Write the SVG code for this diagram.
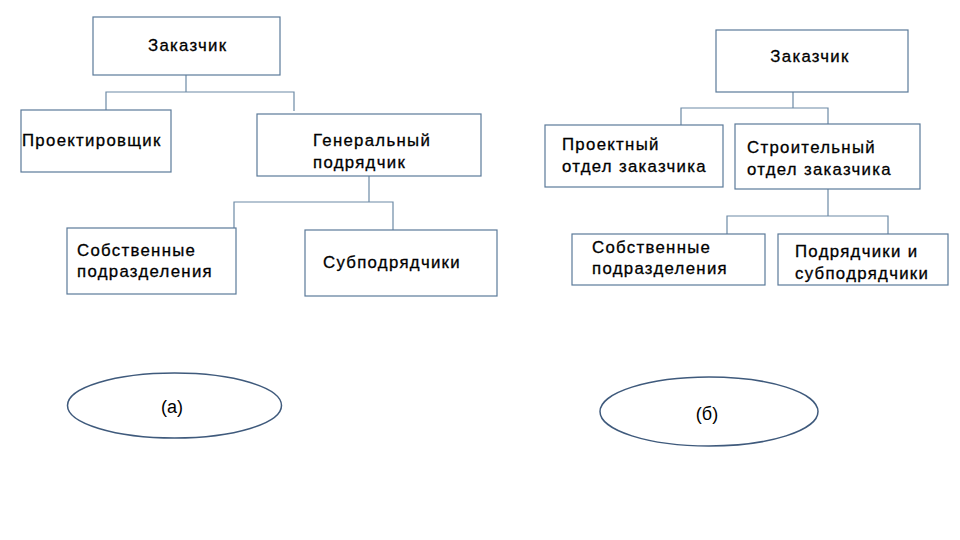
<svg xmlns="http://www.w3.org/2000/svg" width="960" height="540" viewBox="0 0 960 540">
<style>
.box{fill:#fff;stroke:#5b7a99;stroke-width:1.2}
.ln{fill:none;stroke:#6d8aa6;stroke-width:1.2}
.ell{fill:#fff;stroke:#3f5a7c;stroke-width:1.5}
text{font-family:"Liberation Sans",Arial,sans-serif;font-size:16.8px;letter-spacing:1.3px;fill:#000;stroke:#000;stroke-width:0.3}
text.lbl{letter-spacing:0;stroke:none;font-size:18px}
</style>
<rect width="960" height="540" fill="#fff"/>
<g id="connectors">
<path class="ln" d="M186 75V92M106 110V92H294V111"/>
<path class="ln" d="M369 176V202M234 229V202H393V231"/>
<path class="ln" d="M793 92V108M681 125V108H828V124"/>
<path class="ln" d="M828 189V216M727 234V216H888V234"/>
</g>
<g id="a-zakazchik"><rect class="box" x="93" y="17" width="187" height="58"/><text x="148" y="51">Заказчик</text></g>
<g id="a-proekt"><rect class="box" x="21" y="110" width="150" height="62"/><text x="22" y="146">Проектировщик</text></g>
<g id="a-genpodr"><rect class="box" x="257" y="114" width="224" height="62"/><text x="313" y="146">Генеральный</text><text x="313" y="168">подрядчик</text></g>
<g id="a-sobstv"><rect class="box" x="67" y="228" width="169" height="66"/><text x="77" y="256">Собственные</text><text x="77" y="277">подразделения</text></g>
<g id="a-subpodr"><rect class="box" x="305" y="230" width="192" height="66"/><text x="323" y="268">Субподрядчики</text></g>
<g id="a-label"><ellipse class="ell" cx="174.5" cy="405.5" rx="107" ry="32.5"/><text class="lbl" x="172" y="413" text-anchor="middle">(а)</text></g>
<g id="b-zakazchik"><rect class="box" x="716" y="30" width="192" height="62"/><text x="810" y="62" text-anchor="middle">Заказчик</text></g>
<g id="b-proekt"><rect class="box" x="545" y="125" width="178" height="62"/><text x="562" y="150">Проектный</text><text x="562" y="172">отдел заказчика</text></g>
<g id="b-stroit"><rect class="box" x="735" y="124" width="185" height="65"/><text x="747" y="153">Строительный</text><text x="747" y="175">отдел заказчика</text></g>
<g id="b-sobstv"><rect class="box" x="572" y="234" width="193" height="51"/><text x="592" y="253">Собственные</text><text x="592" y="274">подразделения</text></g>
<g id="b-podr"><rect class="box" x="778" y="234" width="170" height="51"/><text x="795" y="257">Подрядчики и</text><text x="795" y="279">субподрядчики</text></g>
<g id="b-label"><ellipse class="ell" cx="709" cy="411.5" rx="109" ry="34.5"/><text class="lbl" x="707" y="420" text-anchor="middle">(б)</text></g>
</svg>
